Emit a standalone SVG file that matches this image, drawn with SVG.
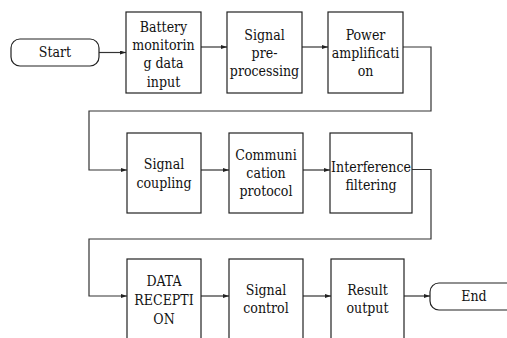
<svg xmlns="http://www.w3.org/2000/svg" width="507" height="338" viewBox="0 0 507 338">
<defs>
<marker id="ah" markerWidth="6" markerHeight="4" refX="6" refY="2" orient="auto" markerUnits="userSpaceOnUse">
<path d="M0,0 L6,2 L0,4 Z" fill="#222"/>
</marker>
<style>
.box{fill:#fff;stroke:#222;stroke-width:1.2}
.t{font-family:'DejaVu Serif Condensed','DejaVu Serif',serif;font-stretch:condensed;font-size:14px;fill:#111;text-anchor:middle}
.c{fill:none;stroke:#333;stroke-width:1.2;marker-end:url(#ah)}
</style>
</defs>
<rect width="507" height="338" fill="#fff"/>
<g id="connectors">
<path class="c" d="M99,52.5 H126"/>
<path class="c" d="M201,47 H227"/>
<path class="c" d="M302,47 H328"/>
<path class="c" d="M403,47 H431 V111 H89 V170 H127"/>
<path class="c" d="M201,170 H229"/>
<path class="c" d="M303,170 H330"/>
<path class="c" d="M407,169.5 H431 V239 H89 V296 H127"/>
<path class="c" d="M201,296 H229"/>
<path class="c" d="M303,296 H331"/>
<path class="c" d="M404,296 H430"/>
</g>
<g id="start">
<rect class="box" x="11" y="39" width="88" height="27" rx="9"/>
<text class="t" x="55" y="57">Start</text>
</g>
<g id="n1">
<rect class="box" x="126" y="12" width="75" height="81"/>
<text class="t" x="163.5" y="31.7">Battery</text>
<text class="t" x="163.5" y="50">monitorin</text>
<text class="t" x="163.5" y="68.3">g data</text>
<text class="t" x="163.5" y="86.6">input</text>
</g>
<g id="n2">
<rect class="box" x="227" y="12" width="75" height="81"/>
<text class="t" x="264.5" y="39.5">Signal</text>
<text class="t" x="264.5" y="57.5">pre-</text>
<text class="t" x="264.5" y="75.5">processing</text>
</g>
<g id="n3">
<rect class="box" x="328" y="12" width="75" height="81"/>
<text class="t" x="365.5" y="39.5">Power</text>
<text class="t" x="365.5" y="57.5">amplificati</text>
<text class="t" x="365.5" y="75.5">on</text>
</g>
<g id="n4">
<rect class="box" x="127" y="133" width="74" height="80"/>
<text class="t" x="164" y="169">Signal</text>
<text class="t" x="164" y="187.5">coupling</text>
</g>
<g id="n5">
<rect class="box" x="229" y="133" width="74" height="80"/>
<text class="t" x="266" y="159.5">Communi</text>
<text class="t" x="266" y="177.5">cation</text>
<text class="t" x="266" y="195.5">protocol</text>
</g>
<g id="n6">
<rect class="box" x="330" y="133" width="82" height="80"/>
<text class="t" x="371" y="171.5">Interference</text>
<text class="t" x="371" y="190">filtering</text>
</g>
<g id="n7">
<rect class="box" x="127" y="259" width="74" height="81"/>
<text class="t" x="164" y="286">DATA</text>
<text class="t" x="164" y="305">RECEPTI</text>
<text class="t" x="164" y="324">ON</text>
</g>
<g id="n8">
<rect class="box" x="229" y="259" width="74" height="81"/>
<text class="t" x="266" y="295">Signal</text>
<text class="t" x="266" y="312.5">control</text>
</g>
<g id="n9">
<rect class="box" x="331" y="259" width="73" height="81"/>
<text class="t" x="367.5" y="295">Result</text>
<text class="t" x="367.5" y="312.5">output</text>
</g>
<g id="end">
<rect class="box" x="430" y="283" width="88" height="27" rx="9"/>
<text class="t" x="474" y="301">End</text>
</g>
</svg>
